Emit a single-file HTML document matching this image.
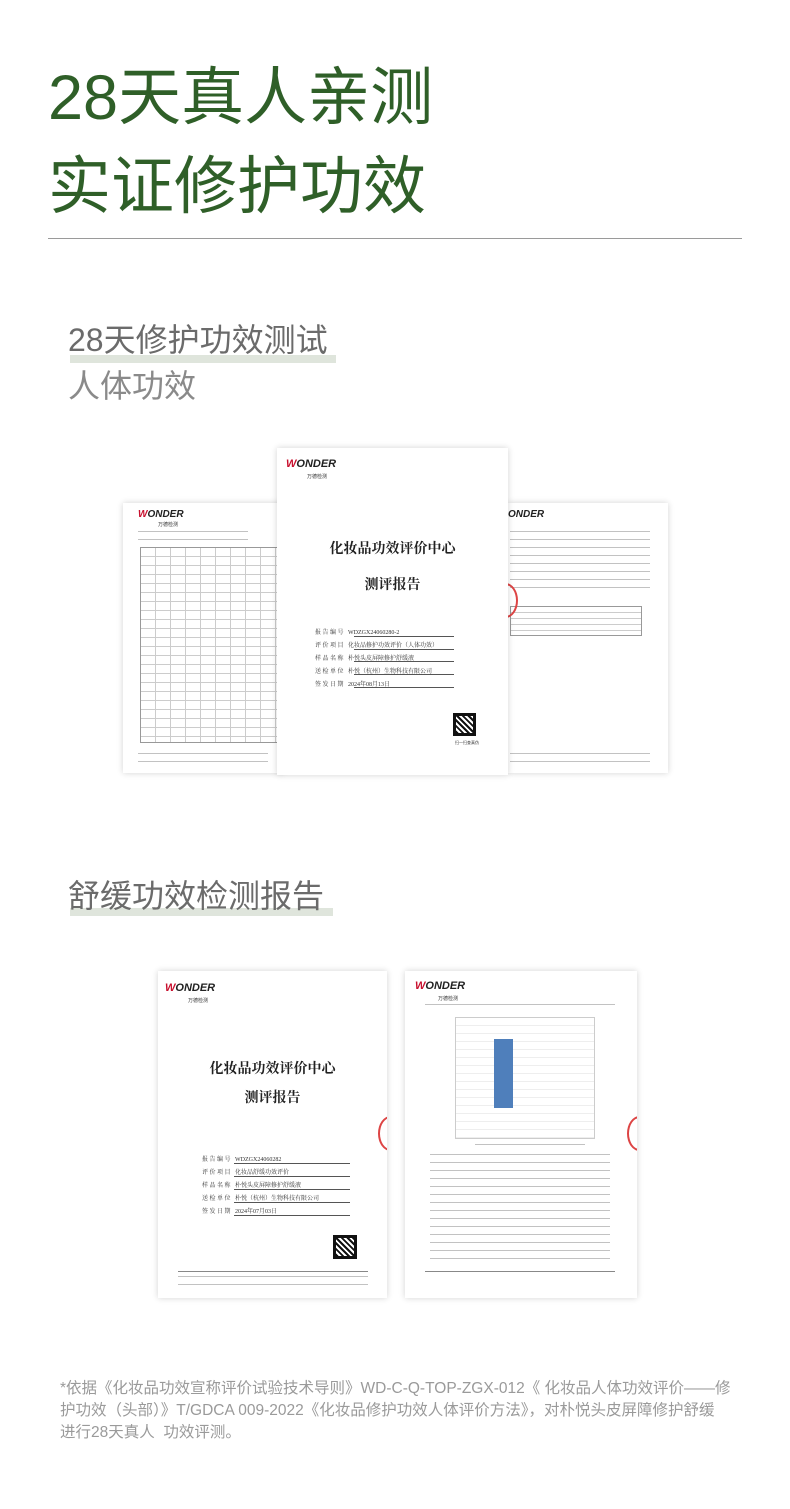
<!DOCTYPE html>
<html><head><meta charset="utf-8"><style>
*{margin:0;padding:0;box-sizing:border-box}
body{width:790px;height:1509px;background:#fff;position:relative;overflow:hidden;font-family:"Liberation Sans","Noto Sans CJK SC",sans-serif}
.a{position:absolute}
.t{color:#2f5f28;font-size:63px;line-height:64px;white-space:nowrap;letter-spacing:0px}
.doc{position:absolute;background:#fff;box-shadow:0 0 6px rgba(0,0,0,.18);overflow:hidden}
.logo{position:absolute;font-weight:bold;font-style:italic;color:#222;font-family:"Liberation Sans",sans-serif}
.logo b{color:#c8102e}
.ser{font-family:"Liberation Serif","Noto Serif CJK SC",serif}
.f{position:absolute;font-size:6px;color:#333;white-space:nowrap}
.ln{position:absolute;height:1px;background:#555}
.tbl{position:absolute;border:1px solid #999;background:
repeating-linear-gradient(to bottom,transparent 0 8px,#ccc 8px 9px),
repeating-linear-gradient(to right,transparent 0 14px,#ccc 14px 15px)}
.qr{position:absolute;background:
repeating-linear-gradient(45deg,#111 0 2px,#fff 2px 4px),#111;border:3px solid #111}
.txt{position:absolute;background:repeating-linear-gradient(to bottom,#999 0 1px,transparent 1px 8px);opacity:.6}
.seal{position:absolute;border:2px solid #d44;border-radius:50%}
.fn{position:absolute;left:60px;font-size:15.5px;line-height:22px;color:#9a9a9a;white-space:nowrap}
</style></head><body>
<div class="a t" style="left:48px;top:66px">28天真人亲测</div>
<div class="a t" style="left:48px;top:155px">实证修护功效</div>
<div class="a" style="left:48px;top:238px;width:694px;height:1px;background:#9a9a9a"></div>

<div class="a" style="left:70px;top:355px;width:266px;height:8px;background:#dfe5dc"></div>
<div class="a" style="left:68px;top:320px;font-size:32px;line-height:40px;color:#6b6b6b;white-space:nowrap">28天修护功效测试</div>
<div class="a" style="left:68px;top:366px;font-size:32px;line-height:40px;color:#8a8a8a;white-space:nowrap">人体功效</div>

<!-- docs set 1 -->
<div class="doc" style="left:123px;top:503px;width:160px;height:270px">
 <div class="logo" style="left:15px;top:6px;font-size:10px"><b>W</b>ONDER</div>
 <div class="f" style="left:35px;top:18px;font-size:5px">万德检测</div>
 <div class="txt" style="left:15px;top:28px;width:110px;height:12px"></div>
 <div class="tbl" style="left:17px;top:44px;width:150px;height:196px"></div>
 <div class="txt" style="left:15px;top:250px;width:130px;height:10px"></div>
</div>
<div class="doc" style="left:508px;top:503px;width:160px;height:270px">
 <div class="logo" style="left:0px;top:6px;font-size:10px">ONDER</div>
 <div class="txt" style="left:2px;top:28px;width:140px;height:60px"></div>
 <div class="tbl" style="left:2px;top:103px;width:132px;height:30px;background:repeating-linear-gradient(to bottom,transparent 0 5px,#ccc 5px 6px)"></div>
 <div class="seal" style="left:-15px;top:80px;width:25px;height:35px"></div>
 <div class="txt" style="left:2px;top:250px;width:140px;height:10px"></div>
</div>
<div class="doc" style="left:277px;top:448px;width:231px;height:327px">
 <div class="logo" style="left:9px;top:10px;font-size:11px"><b>W</b>ONDER</div>
 <div class="f" style="left:30px;top:25px;font-size:5px">万德检测</div>
 <div class="a ser" style="left:0;width:231px;top:90px;text-align:center;font-size:14px;font-weight:bold;color:#222">化妆品功效评价中心</div>
 <div class="a ser" style="left:0;width:231px;top:126px;text-align:center;font-size:14px;font-weight:bold;color:#222">测评报告</div>
 <div class="f ser" style="left:38px;top:179px">报 告 编 号 &nbsp; WDZGX24060280-2</div>
 <div class="ln" style="left:77px;top:188px;width:100px"></div>
 <div class="f ser" style="left:38px;top:192px">评 价 项 目 &nbsp; 化妆品修护功效评价（人体功效）</div>
 <div class="ln" style="left:77px;top:201px;width:100px"></div>
 <div class="f ser" style="left:38px;top:205px">样 品 名 称 &nbsp; 朴悦头皮屏障修护舒缓液</div>
 <div class="ln" style="left:77px;top:213px;width:100px"></div>
 <div class="f ser" style="left:38px;top:218px">送 检 单 位 &nbsp; 朴悦（杭州）生物科技有限公司</div>
 <div class="ln" style="left:77px;top:226px;width:100px"></div>
 <div class="f ser" style="left:38px;top:231px">签 发 日 期 &nbsp; 2024年08月13日</div>
 <div class="ln" style="left:77px;top:239px;width:100px"></div>
 <div class="qr" style="left:176px;top:265px;width:23px;height:23px"></div>
 <div class="f" style="left:178px;top:292px;font-size:4px">扫一扫查真伪</div>
</div>

<div class="a" style="left:70px;top:908px;width:263px;height:8px;background:#dfe5dc"></div>
<div class="a" style="left:68px;top:876px;font-size:32px;line-height:40px;color:#6b6b6b;white-space:nowrap">舒缓功效检测报告</div>

<!-- docs set 2 -->
<div class="doc" style="left:158px;top:971px;width:229px;height:327px">
 <div class="logo" style="left:7px;top:11px;font-size:11px"><b>W</b>ONDER</div>
 <div class="f" style="left:30px;top:26px;font-size:5px">万德检测</div>
 <div class="a ser" style="left:0;width:229px;top:87px;text-align:center;font-size:14px;font-weight:bold;color:#222">化妆品功效评价中心</div>
 <div class="a ser" style="left:0;width:229px;top:116px;text-align:center;font-size:14px;font-weight:bold;color:#222">测评报告</div>
 <div class="f ser" style="left:44px;top:183px">报 告 编 号 &nbsp; WDZGX24060282</div>
 <div class="ln" style="left:76px;top:192px;width:116px"></div>
 <div class="f ser" style="left:44px;top:196px">评 价 项 目 &nbsp; 化妆品舒缓功效评价</div>
 <div class="ln" style="left:76px;top:205px;width:116px"></div>
 <div class="f ser" style="left:44px;top:209px">样 品 名 称 &nbsp; 朴悦头皮屏障修护舒缓液</div>
 <div class="ln" style="left:76px;top:218px;width:116px"></div>
 <div class="f ser" style="left:44px;top:222px">送 检 单 位 &nbsp; 朴悦（杭州）生物科技有限公司</div>
 <div class="ln" style="left:76px;top:231px;width:116px"></div>
 <div class="f ser" style="left:44px;top:235px">签 发 日 期 &nbsp; 2024年07月03日</div>
 <div class="ln" style="left:76px;top:244px;width:116px"></div>
 <div class="qr" style="left:175px;top:264px;width:24px;height:24px"></div>
 <div class="ln" style="left:20px;top:300px;width:190px;background:#888"></div>
 <div class="txt" style="left:20px;top:305px;width:190px;height:10px"></div>
 <div class="seal" style="left:220px;top:145px;width:25px;height:35px"></div>
</div>
<div class="doc" style="left:405px;top:971px;width:232px;height:327px">
 <div class="logo" style="left:10px;top:9px;font-size:11px"><b>W</b>ONDER</div>
 <div class="f" style="left:33px;top:24px;font-size:5px">万德检测</div>
 <div class="txt" style="left:20px;top:33px;width:190px;height:3px"></div>
 <div class="a" style="left:50px;top:46px;width:140px;height:122px;border:1px solid #ccc;background:repeating-linear-gradient(to bottom,transparent 0 7px,#eee 7px 8px)"></div>
 <div class="a" style="left:89px;top:68px;width:19px;height:69px;background:#4f7fbb"></div>
 <div class="txt" style="left:70px;top:173px;width:110px;height:3px"></div>
 <div class="txt" style="left:25px;top:183px;width:180px;height:110px"></div>
 <div class="ln" style="left:20px;top:300px;width:190px;background:#888"></div>
 <div class="seal" style="left:222px;top:145px;width:25px;height:35px"></div>
</div>

<div class="fn" style="top:1378px">*依据《化妆品功效宣称评价试验技术导则》WD-C-Q-TOP-ZGX-012《 化妆品人体功效评价——修</div>
<div class="fn" style="top:1400px">护功效（头部）》T/GDCA 009-2022《化妆品修护功效人体评价方法》，对朴悦头皮屏障修护舒缓</div>
<div class="fn" style="top:1422px">进行28天真人&nbsp; 功效评测。</div>
</body></html>
